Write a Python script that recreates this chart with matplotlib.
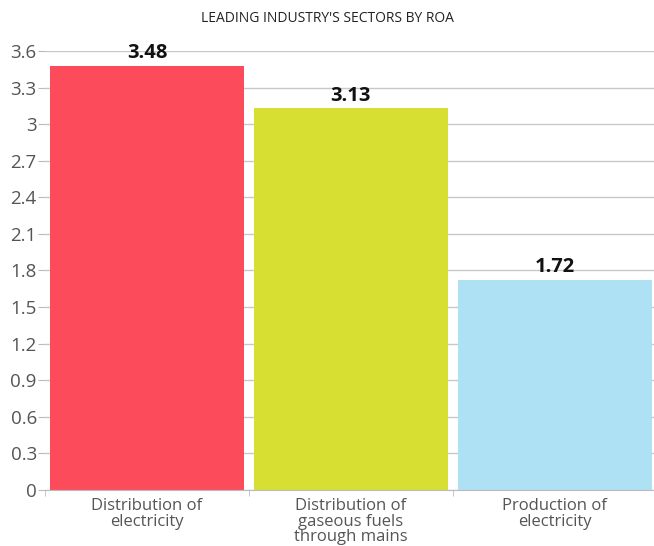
import numpy as np
import matplotlib.pyplot as plt
from matplotlib.ticker import FixedLocator

plt.rcParams['font.family'] = ['Open Sans', 'DejaVu Sans']

categories = ['Distribution of\nelectricity',
              'Distribution of\ngaseous fuels\nthrough mains',
              'Production of\nelectricity']
values = [3.48, 3.13, 1.72]
colors = ['#FC4C5B', '#D8DF33', '#ADE1F3']
yticks = [0, 0.3, 0.6, 0.9, 1.2, 1.5, 1.8, 2.1, 2.4, 2.7, 3, 3.3, 3.6]
ytick_labels = ['0', '0.3', '0.6', '0.9', '1.2', '1.5', '1.8', '2.1', '2.4', '2.7', '3', '3.3', '3.6']

fig = plt.figure(figsize=(6.54, 5.46), dpi=100)
ax = fig.add_axes([0.069, 0.1026, 0.935, 0.804])

x = np.arange(len(categories))
bars = ax.bar(x, values, width=0.95, color=colors, zorder=2)

for b, v in zip(bars, values):
    ax.annotate(f'{v:.2f}', (b.get_x() + b.get_width() / 2, v),
                xytext=(0, 2), textcoords='offset points',
                ha='center', va='bottom', fontsize=14.5, fontweight='bold',
                color='#111111')

ax.set_xlim(-0.5, 2.5)
ax.set_ylim(0, 3.6)
ax.set_yticks(yticks)
ax.set_yticklabels(ytick_labels)
ax.grid(axis='y', color='#c8c8c8', linewidth=1, zorder=0)

ax.set_xticks(x)
ax.set_xticklabels(categories, linespacing=0.95)
ax.xaxis.set_minor_locator(FixedLocator([-0.5, 0.5, 1.5]))
ax.tick_params(axis='x', which='major', length=0, labelsize=12, labelcolor='#555555', pad=6)
ax.tick_params(axis='x', which='minor', length=4, color='#bbbbbb')
ax.tick_params(axis='y', length=5, color='#bbbbbb', labelsize=13.5, labelcolor='#555555', pad=1)

for s in ['top', 'right', 'left']:
    ax.spines[s].set_visible(False)
ax.spines['bottom'].set_color('#bbbbbb')

fig.text(0.5, 0.967, "LEADING INDUSTRY'S SECTORS BY ROA", ha='center', va='center',
         fontsize=10, color='#222222')

fig.savefig('out.png', dpi=100)
